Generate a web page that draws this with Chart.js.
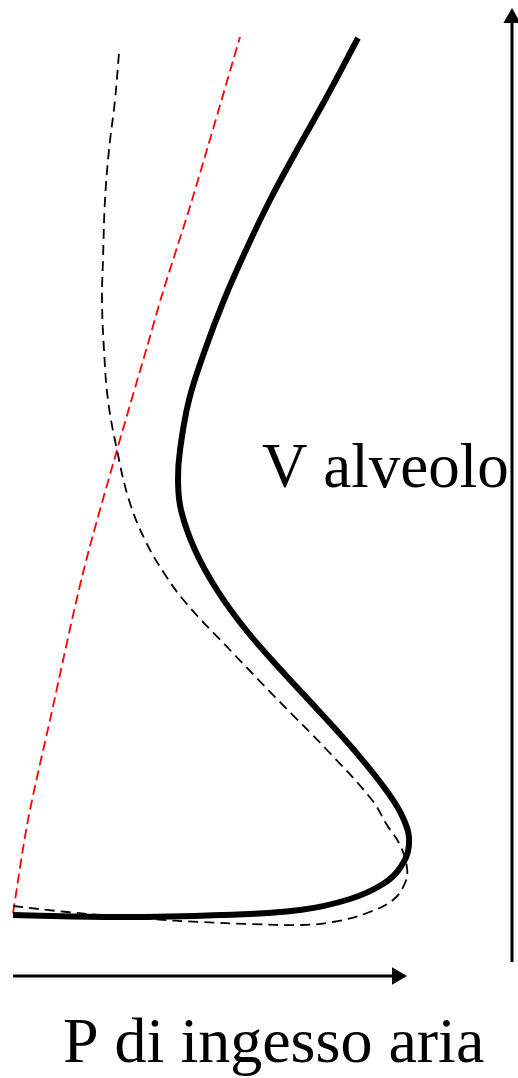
<!DOCTYPE html>
<html>
<head>
<meta charset="utf-8">
<script src="https://cdn.jsdelivr.net/npm/chart.js@4/dist/chart.umd.min.js"></script>
<style>
  html, body { margin: 0; padding: 0; background: #fff; }
  #wrap { width: 518px; height: 1078px; position: relative; }
</style>
</head>
<body>
<div id="wrap"><canvas id="chart"></canvas></div>
<script>
// values (x = pressure, y = volume, in image units, y downwards)
const thickX = [13, 120, 220, 300, 350, 383, 400, 409, 404, 386, 354, 318, 281, 246, 217, 195, 181, 178, 180, 189, 205, 224, 246, 270, 297, 325, 358];
const thickY = [915, 917, 915, 910, 899, 884, 868, 845, 820, 790, 750, 710, 670, 630, 590, 550, 510, 480, 450, 400, 350, 300, 250, 200, 150, 100, 38];

const dashX = [13, 67, 150, 200, 250, 300, 333, 367, 393, 405, 407, 400, 387, 372, 327, 278, 230, 186, 164, 145, 129, 117, 108, 104, 102, 103, 105, 109, 115, 119];
const dashY = [906, 912, 919, 922, 924, 925, 922, 913, 900, 883, 868, 845, 825, 800, 750, 700, 650, 603, 573, 540, 500, 450, 400, 350, 300, 260, 200, 150, 100, 53];

const redX = [13, 28, 50, 83, 117, 147, 162, 192, 240];
const redY = [913, 820, 720, 573, 450, 347, 295, 200, 37];

const hArrowX = [13, 397];
const hArrowY = [976, 976];
const vArrowX = [512, 512];
const vArrowY = [962, 18];

const axisLabels = ['V alveolo', 'P di ingesso aria'];

function pts(xs, ys) {
    return xs.map((x, i) => ({ x: x, y: ys[i] }));
}

// the two axis names, placed through the chart scales
const labelPlugin = {
    id: 'labels',
    afterDraw(chart) {
        const ctx = chart.ctx;
        const sx = chart.scales.x, sy = chart.scales.y;
        ctx.save();
        ctx.fillStyle = '#000';
        ctx.textBaseline = 'alphabetic';
        ctx.textAlign = 'left';
        ctx.font = "63px 'Liberation Serif', 'DejaVu Serif', serif";
        ctx.fillText(axisLabels[0], sx.getPixelForValue(262), sy.getPixelForValue(487));
        ctx.font = "64px 'Liberation Serif', 'DejaVu Serif', serif";
        ctx.fillText(axisLabels[1], sx.getPixelForValue(63), sy.getPixelForValue(1062));
        ctx.restore();
    }
};

new Chart(document.getElementById('chart'), {
    type: 'scatter',
    data: {
        datasets: [{
            label: 'curva',
            data: pts(thickX, thickY),
            showLine: true,
            borderColor: '#000',
            borderWidth: 6,
            tension: 0.4,
            pointRadius: 0,
            borderCapStyle: 'butt'
        }, {
            label: 'tratteggio',
            data: pts(dashX, dashY),
            showLine: true,
            borderColor: '#000',
            borderWidth: 1.8,
            borderDash: [10, 6],
            tension: 0.4,
            pointRadius: 0
        }, {
            label: 'rosso',
            data: pts(redX, redY),
            showLine: true,
            borderColor: '#ff0000',
            borderWidth: 1.8,
            borderDash: [10, 5],
            tension: 0.3,
            pointRadius: 0
        }, {
            label: 'asse P',
            data: pts(hArrowX, hArrowY),
            showLine: true,
            borderColor: '#000',
            backgroundColor: '#000',
            borderWidth: 3,
            pointStyle: 'triangle',
            pointRotation: 90,
            pointRadius: [0, 10],
            pointBorderWidth: 0
        }, {
            label: 'asse V',
            data: pts(vArrowX, vArrowY),
            showLine: true,
            borderColor: '#000',
            backgroundColor: '#000',
            borderWidth: 3,
            pointStyle: 'triangle',
            pointRotation: 0,
            pointRadius: [0, 10],
            pointBorderWidth: 0
        }]
    },
    options: {
        responsive: true,
        maintainAspectRatio: false,
        animation: false,
        layout: { padding: 0, autoPadding: false },
        plugins: {
            legend: { display: false },
            tooltip: { enabled: false },
            title: { display: false }
        },
        scales: {
            x: { type: 'linear', min: 0, max: 518, display: false },
            y: { type: 'linear', min: 0, max: 1078, reverse: true, display: false }
        }
    },
    plugins: [labelPlugin]
});
</script>
</body>
</html>
